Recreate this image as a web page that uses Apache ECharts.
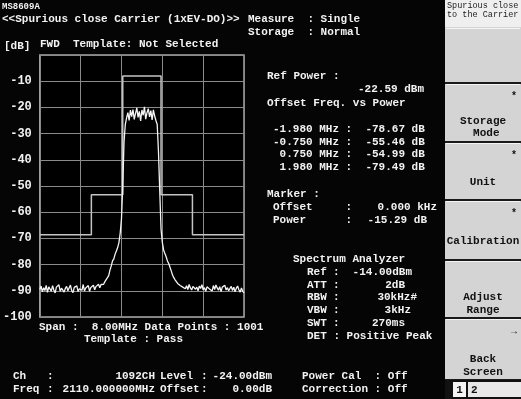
<!DOCTYPE html>
<html><head><meta charset="utf-8">
<script src="https://cdn.jsdelivr.net/npm/echarts@6/dist/echarts.min.js"></script>
<style>html,body{margin:0;padding:0;background:#050505;}#c{width:521px;height:399px;}</style>
</head><body><div id="c"></div>
<script>
// ---- data ----
const spanMHz = 8.0;
const freqStart = -4.0;      // MHz offset of first trace point
const freqStep = 0.05;       // MHz between trace points
const yTicks = [0, -10, -20, -30, -40, -50, -60, -70, -80, -90, -100];
const traceLevels = [
 -89.5,-88.2,-90.4,-88.8,-89.9,-87.9,-90.6,-88.5,-89.2,-90.1,
 -88.0,-89.7,-90.8,-88.6,-89.3,-87.7,-90.2,-89.0,-88.4,-90.5,
 -89.1,-88.3,-90.0,-89.6,-87.8,-89.9,-90.7,-88.7,-89.4,-88.1,
 -90.3,-89.2,-88.6,-89.8,-87.6,-90.1,-88.9,-89.5,-88.0,-90.2,
 -88.7,-89.3,-87.9,-89.6,-88.4,-88.9,-87.5,-88.8,-87.6,-88.3,
 -87.5,-86.5,-87.2,-85.0,-84.2,-82.0,-80.5,-78.6,-77.8,-76.0,
 -74.8,-73.5,-71.6,-68.0,-62.5,-50.0,-33.0,-26.5,
 -24.0,-22.0,-25.0,-21.0,-23.5,-20.8,-24.6,-22.3,-20.2,-23.8,
 -21.5,-25.2,-21.0,-23.0,-19.8,-24.5,-22.0,-20.5,-23.6,-21.2,
 -24.8,-20.9,-23.3,-25.0,-26.5,
 -37.0,-52.0,-66.5,-71.5,-74.4,-75.8,-77.0,-78.6,-79.6,-81.0,
 -82.4,-84.0,-85.0,-85.8,-86.5,-87.2,-86.8,-88.0,
 -87.4,-88.6,-87.9,-89.2,-88.1,-89.5,-87.6,-88.9,-89.7,-88.3,
 -87.8,-89.4,-88.6,-90.0,-88.2,-89.1,-87.7,-89.6,-88.8,-90.2,
 -88.5,-87.9,-89.3,-88.7,-90.1,-88.0,-89.5,-87.8,-88.9,-89.8,
 -88.4,-90.3,-88.6,-89.2,-87.9,-89.7,-88.8,-90.0,-89.1,-88.3,
 -89.9,-88.6,-90.4,-89.0,-88.2,-89.6,-90.5,-88.9,-90.2,-90.8
];
const templateFreqs  = [-4.0, -1.98, -1.98, -0.75, -0.75, 0.75, 0.75, 1.98, 1.98, 4.0];
const templateLevels = [-68.6, -68.6, -53.3, -53.3, -8.0, -8.0, -53.3, -53.3, -68.6, -68.6];

const offsetRows = [
  ['-1.980', '-78.67'],
  ['-0.750', '-55.46'],
  [' 0.750', '-54.99'],
  [' 1.980', '-79.49']
];
const softkeys = [
  {lines: [], star: ''},
  {lines: ['Storage', ' Mode'], star: '*'},
  {lines: ['Unit'], star: '*'},
  {lines: ['Calibration'], star: '*'},
  {lines: ['Adjust', 'Range'], star: ''},
  {lines: ['Back', 'Screen'], star: '→'}
];

// ---- build ----
const half = spanMHz / 2;
const traceData = traceLevels.map((v, i) => [freqStart + i * freqStep + half, v]);
const templateData = templateFreqs.map((f, i) => [f + half, templateLevels[i]]);

const FONT = '"Liberation Mono", "DejaVu Sans Mono", monospace';
const W = '#f2f2f2';
function T(x, y, text, o) {
  o = o || {};
  return {type: 'text', x: x, y: y, z: 10, silent: true,
    style: {text: text, fill: o.fill || W, font: (o.weight || 'bold') + ' ' + (o.size || 11) + 'px ' + FONT,
      textAlign: o.align || 'left', textVerticalAlign: 'middle'}};
}

const g = [];
// header
g.push(T(2, 7, 'MS8609A', {size: 9}));
g.push(T(2, 19, '<<Spurious close Carrier (1xEV-DO)>>'));
g.push(T(248, 19, 'Measure  : Single'));
g.push(T(248, 32, 'Storage  : Normal'));
g.push(T(4, 46, '[dB]'));
g.push(T(40, 44, 'FWD  Template: Not Selected'));
// below plot
g.push(T(39, 327, 'Span :  8.00MHz Data Points : 1001'));
g.push(T(84, 339, 'Template : Pass'));
// right info
g.push(T(267, 76, 'Ref Power :'));
g.push(T(424, 89, '-22.59 dBm', {align: 'right'}));
g.push(T(267, 103, 'Offset Freq. vs Power'));
const rowY = [129, 142, 154, 167];
offsetRows.forEach((r, i) => {
  g.push(T(273, rowY[i], r[0] + ' MHz :  ' + r[1] + ' dB'));
});
g.push(T(267, 194, 'Marker :'));
g.push(T(273, 207, 'Offset     :'));
g.push(T(437, 207, '0.000 kHz', {align: 'right'}));
g.push(T(273, 220, 'Power      :'));
g.push(T(427, 220, '-15.29 dB', {align: 'right'}));
g.push(T(293, 259, 'Spectrum Analyzer'));
const saRows = [['Ref', '-14.00dBm'], ['ATT', '2dB'], ['RBW', '30kHz#'], ['VBW', '3kHz'], ['SWT', '270ms']];
const saRight = [412, 405, 417, 411, 405];
saRows.forEach((r, i) => {
  const y = 272 + i * 12.8;
  g.push(T(307, y, r[0]));
  g.push(T(333, y, ':'));
  g.push(T(saRight[i], y, r[1], {align: 'right'}));
});
g.push(T(307, 336, 'DET : Positive Peak'));
// bottom status
[[376, 'Ch', '1092CH', 'Level', '-24.00dBm', 'Power Cal  : Off'],
 [389, 'Freq', '2110.000000MHz', 'Offset', '0.00dB', 'Correction : Off']].forEach(r => {
  const y = r[0];
  g.push(T(13, y, r[1]));
  g.push(T(47, y, ':'));
  g.push(T(155, y, r[2], {align: 'right'}));
  g.push(T(160, y, r[3]));
  g.push(T(201, y, ':'));
  g.push(T(272, y, r[4], {align: 'right'}));
  g.push(T(302, y, r[5]));
});

// softkey panel
g.push({type: 'rect', shape: {x: 445, y: 0, width: 76, height: 399}, style: {fill: '#d4d4d4'}, silent: true});
g.push({type: 'rect', shape: {x: 445, y: 0, width: 76, height: 27}, style: {fill: '#efefef'}, silent: true});
g.push(T(447, 6, 'Spurious close', {fill: '#222', size: 8.5, weight: 'normal'}));
g.push(T(447, 15, 'to the Carrier', {fill: '#222', size: 8.5, weight: 'normal'}));
const keyTops = [27, 83, 142, 200, 260, 318, 380];
const labelY = [[], [121, 133], [182], [241], [297, 310], [359, 372]];
for (let k = 0; k < softkeys.length; k++) {
  const top = keyTops[k], bot = keyTops[k + 1];
  g.push({type: 'rect', shape: {x: 445, y: bot - 1, width: 76, height: 2}, style: {fill: '#1a1a1a'}, silent: true});
  g.push({type: 'rect', shape: {x: 446, y: top + 1, width: 74, height: 1}, style: {fill: '#f4f4f4'}, silent: true});
  if (softkeys[k].star) g.push(T(517, top + 13, softkeys[k].star, {fill: '#111', align: 'right', size: 10}));
  softkeys[k].lines.forEach((ln, j) => g.push(T(483, labelY[k][j], ln, {fill: '#111', align: 'center'})));
}
g.push({type: 'rect', shape: {x: 445, y: 380, width: 76, height: 19}, style: {fill: '#111'}, silent: true});
g.push({type: 'rect', shape: {x: 453, y: 382, width: 13, height: 15}, style: {fill: '#f4f4f4'}, silent: true});
g.push({type: 'rect', shape: {x: 468, y: 382, width: 53, height: 15}, style: {fill: '#e8e8e8'}, silent: true});
g.push(T(459.5, 390, '1', {fill: '#111', align: 'center'}));
g.push(T(471, 390, '2', {fill: '#111'}));

const chart = echarts.init(document.getElementById('c'), null, {renderer: 'canvas'});
chart.setOption({
  backgroundColor: '#050505',
  animation: false,
  grid: {left: 39, top: 55, width: 205, height: 262, show: true, borderColor: '#a8a8a8', borderWidth: 1.5, backgroundColor: '#000'},
  xAxis: {type: 'value', min: 0, max: spanMHz, interval: spanMHz / 5,
    axisLine: {show: false}, axisTick: {show: false}, axisLabel: {show: false},
    splitLine: {show: true, lineStyle: {color: '#8a8a8a', width: 1}}},
  yAxis: {type: 'value', min: yTicks[yTicks.length - 1], max: yTicks[0], interval: 10,
    axisLine: {show: false}, axisTick: {show: false},
    axisLabel: {margin: 8, color: W, fontFamily: FONT, fontWeight: 'bold', fontSize: 12,
      formatter: v => (yTicks.indexOf(v) > 0 ? String(v) : '')},
    splitLine: {show: true, lineStyle: {color: '#8a8a8a', width: 1}}},
  series: [
    {type: 'line', data: templateData, showSymbol: false, lineStyle: {color: '#c4c4c4', width: 1.5}, z: 3},
    {type: 'line', data: traceData, showSymbol: false, lineStyle: {color: '#f4f4f4', width: 1.3}, z: 4}
  ],
  graphic: g
});
</script></body></html>
